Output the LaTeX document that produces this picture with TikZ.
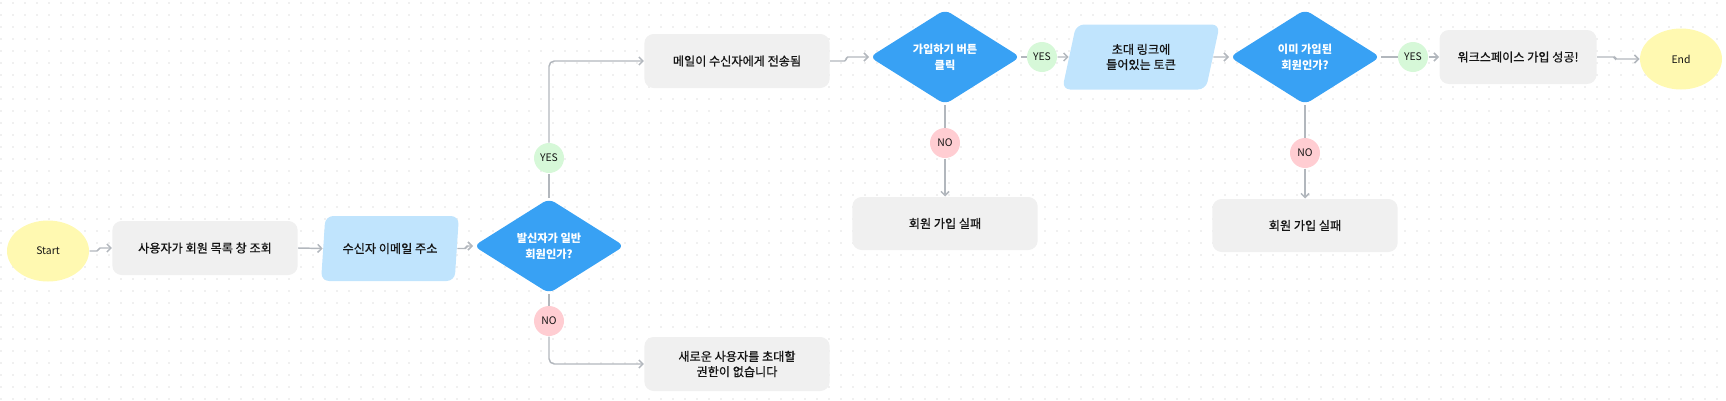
\documentclass[tikz,border=0pt]{standalone}
\usepackage{fontspec}
\setmainfont{Noto Sans CJK KR}
\newfontfamily\medfont{Noto Sans CJK KR}[FakeBold=0.6]
\usetikzlibrary{shapes.geometric,arrows.meta}

\definecolor{dotgray}{RGB}{224,224,224}
\definecolor{linegray}{RGB}{178,183,189}
\definecolor{boxgray}{RGB}{240,240,240}
\definecolor{termyellow}{RGB}{255,249,177}
\definecolor{iolightblue}{RGB}{192,228,253}
\definecolor{decblue}{RGB}{56,161,244}
\definecolor{yesgreen}{RGB}{214,248,216}
\definecolor{nopink}{RGB}{255,205,210}
\definecolor{textblack}{RGB}{20,20,20}

\tikzset{every picture/.style={line width=0.75pt}}
\tikzset{
  terminal/.style={ellipse, fill=termyellow, text=textblack, minimum width=61.5pt, minimum height=45.75pt, inner sep=0pt, font=\fontsize{7.8}{9}\selectfont},
  process/.style={rectangle, rounded corners=7pt, fill=boxgray, text=textblack, minimum width=139pt, minimum height=40.5pt, inner sep=2pt, align=center, font=\medfont\fontsize{9.1}{11.4}\selectfont},
  iobox/.style={trapezium, trapezium left angle=74, trapezium right angle=106, trapezium stretches=true, rounded corners=6pt, fill=iolightblue, text=textblack, minimum width=104.25pt, minimum height=48.75pt, inner sep=0pt, align=center, font=\medfont\fontsize{9.1}{11.4}\selectfont},
  decision/.style={diamond, aspect=1.6, rounded corners=5pt, fill=decblue, text=white, minimum width=113.25pt, minimum height=71.25pt, inner sep=0pt, align=center, font=\fontsize{8.4}{11.8}\selectfont\bfseries},
  yeslabel/.style={circle, fill=yesgreen, text=textblack, minimum size=22.5pt, inner sep=0pt, font=\fontsize{7.8}{9}\selectfont},
  nolabel/.style={circle, fill=nopink, text=textblack, minimum size=22.5pt, inner sep=0pt, font=\fontsize{7.8}{9}\selectfont},
  conn/.style={draw=linegray, line width=1.1pt, rounded corners=4pt},
  jog/.style={rounded corners=1.2pt},
  arrowconn/.style={conn, -{Straight Barb[length=3pt,width=6pt]}}
}

\begin{document}
\begin{tikzpicture}[x=0.75pt,y=0.75pt,yscale=-1,xscale=1]
	\useasboundingbox (0,0) rectangle (1726,400);

	%Dot grid
	\foreach \i in {0,...,143}
	  \foreach \j in {0,...,33}
	    \fill[dotgray] (1+12*\i,3+12*\j) circle (0.9);

	%Terminals
	\node[terminal] (start) at (48,251) {Start};
	\node[terminal] (end) at (1681,59) {End};

	%Main row
	\node[process] (viewlist) at (205,248) {사용자가 회원 목록 창 조회};
	\node[iobox] (email) at (390,248.5) {수신자 이메일 주소};
	\node[decision] (ismember) at (549,246) {발신자가 일반\\회원인가?};
	\node[process] (mailsent) at (737,61) {메일이 수신자에게 전송됨};
	\node[decision] (clickjoin) at (945,57) {가입하기 버튼\\클릭};
	\node[iobox, minimum width=118.5pt] (token) at (1141,57) {초대 링크에\\들어있는 토큰};
	\node[decision] (joined) at (1305,57) {이미 가입된\\회원인가?};
	\node[process, minimum width=117.75pt] (success) at (1518,57) {워크스페이스 가입 성공!};

	%Failure boxes
	\node[process, minimum height=39.75pt] (fail1) at (945,223.5) {회원 가입 실패};
	\node[process, minimum height=39.75pt] (fail2) at (1305,225.5) {회원 가입 실패};
	\node[process] (noperm) at (737,364) {새로운 사용자를 초대할\\권한이 없습니다};

	%Branch labels
	\node[yeslabel] (yes1) at (549,158) {YES};
	\node[yeslabel] (yes2) at (1042,57) {YES};
	\node[yeslabel] (yes3) at (1413,57) {YES};
	\node[nolabel] (no1) at (549,321) {NO};
	\node[nolabel] (no2) at (945,143) {NO};
	\node[nolabel] (no3) at (1305,153) {NO};

	%Connectors
	\draw[arrowconn, jog] (start.east) -- ++(9,0) |- (viewlist.west);
	\draw[arrowconn] (viewlist.east) -- (email.west);
	\draw[arrowconn, jog] (email.east) -- ++(9,0) |- (ismember.west);
	\draw[conn] (ismember.north) -- (yes1.south);
	\draw[arrowconn] (yes1.north) |- (mailsent.west);
	\draw[conn] (ismember.south) -- (no1.north);
	\draw[arrowconn] (no1.south) |- (noperm.west);
	\draw[arrowconn, jog] (mailsent.east) -- ++(16,0) |- (clickjoin.west);
	\draw[conn] (clickjoin.east) -- (yes2.west);
	\draw[arrowconn] (yes2.east) -- (token.west);
	\draw[conn] (clickjoin.south) -- (no2.north);
	\draw[arrowconn] (no2.south) -- (fail1.north);
	\draw[arrowconn] (token.east) -- (joined.west);
	\draw[conn] (joined.east) -- (yes3.west);
	\draw[arrowconn] (yes3.east) -- (success.west);
	\draw[conn] (joined.south) -- (no3.north);
	\draw[arrowconn] (no3.south) -- (fail2.north);
	\draw[arrowconn, jog] (success.east) -- ++(18,0) |- (end.west);

\end{tikzpicture}
\end{document}
